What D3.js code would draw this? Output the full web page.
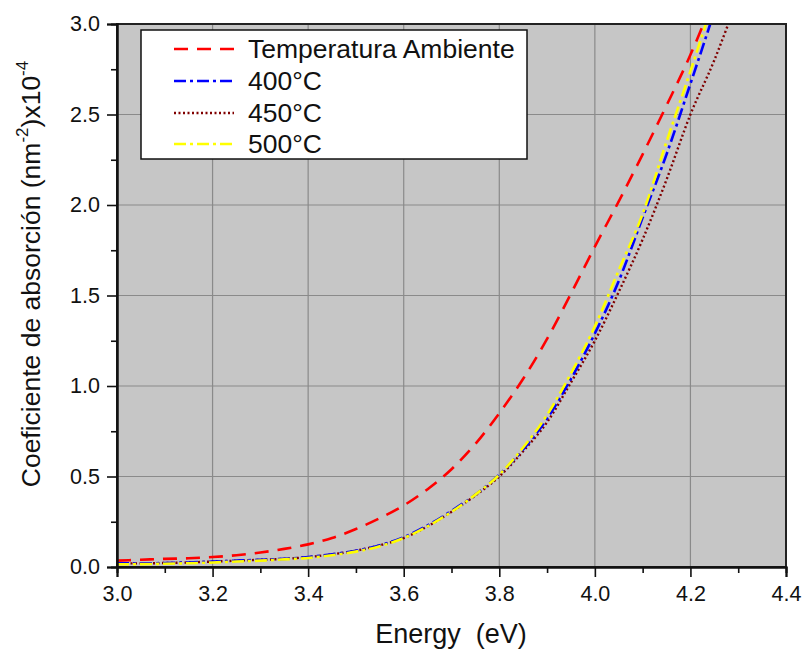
<!DOCTYPE html>
<html><head><meta charset="utf-8">
<script src="https://cdn.jsdelivr.net/npm/d3@7"></script>
<style>body{margin:0;background:#fff}svg{display:block}text{font-family:"Liberation Sans",Arial,sans-serif;fill:#111}</style>
</head><body><svg id="c" width="803" height="652"></svg>
<script>
const energy = [3.00,3.05,3.10,3.15,3.20,3.25,3.30,3.35,3.40,3.45,3.50,3.55,3.60,3.65,3.70,3.75,3.80,3.85,3.90,3.95,4.00,4.05,4.10,4.15,4.20,4.25,4.30];
const tempAmb = [0.035,0.040,0.045,0.048,0.055,0.065,0.080,0.100,0.125,0.160,0.210,0.270,0.340,0.430,0.540,0.680,0.850,1.040,1.260,1.510,1.770,2.020,2.280,2.550,2.830,3.150,3.500];
const t400 = [0.020,0.020,0.022,0.025,0.030,0.035,0.040,0.045,0.055,0.070,0.090,0.120,0.165,0.230,0.310,0.400,0.510,0.650,0.820,1.040,1.290,1.580,1.930,2.280,2.670,3.070,3.500];
const t450 = [0.020,0.020,0.022,0.025,0.030,0.035,0.040,0.045,0.055,0.070,0.090,0.120,0.160,0.225,0.305,0.395,0.500,0.640,0.800,1.020,1.250,1.520,1.810,2.140,2.500,2.800,3.150];
const t500 = [0.015,0.016,0.018,0.021,0.025,0.030,0.035,0.042,0.050,0.065,0.085,0.115,0.160,0.225,0.305,0.400,0.510,0.660,0.840,1.070,1.330,1.640,1.950,2.350,2.740,3.150,3.600];
const seriesNames = ["Temperatura Ambiente","400°C","450°C","500°C"];
const xTicks = [3.0,3.2,3.4,3.6,3.8,4.0,4.2,4.4];
const yTicks = [0.0,0.5,1.0,1.5,2.0,2.5,3.0];

const series = [
  {name:seriesNames[0], vals:tempAmb, color:"#ff0000", dash:"14,9", w:2.6},
  {name:seriesNames[1], vals:t400, color:"#0000ff", dash:"12,4,3,4", w:2.6},
  {name:seriesNames[2], vals:t450, color:"#800000", dash:"2,2.5", w:2.4},
  {name:seriesNames[3], vals:t500, color:"#ffff00", dash:"12,4,3,4", w:2.6}
];

const svg = d3.select("#c");
const L=117, R=786, T=24, B=567;
const x = d3.scaleLinear().domain([3.0,4.4]).range([L,R]);
const y = d3.scaleLinear().domain([0,3.0]).range([B,T]);

svg.append("rect").attr("x",L).attr("y",T).attr("width",R-L).attr("height",B-T).attr("fill","#c6c6c6");
svg.append("defs").append("clipPath").attr("id","clip").append("rect").attr("x",L).attr("y",T).attr("width",R-L).attr("height",B-T);

// grid
const g = svg.append("g");
g.selectAll(".gx").data(xTicks.slice(1,-1)).join("line").attr("x1",d=>x(d)).attr("x2",d=>x(d)).attr("y1",T).attr("y2",B).attr("stroke","#8a8a8a").attr("stroke-width",1.2);
g.selectAll(".gy").data(yTicks.slice(1,-1)).join("line").attr("y1",d=>y(d)).attr("y2",d=>y(d)).attr("x1",L).attr("x2",R).attr("stroke","#8a8a8a").attr("stroke-width",1.2);

// lines
const line = d3.line().x((d,i)=>x(energy[i])).y(d=>y(d)).curve(d3.curveMonotoneX);
const lg = svg.append("g").attr("clip-path","url(#clip)");
[2,1,3,0].forEach(k=>{
  const s=series[k];
  lg.append("path").attr("d",line(s.vals)).attr("fill","none").attr("stroke",s.color).attr("stroke-width",s.w).attr("stroke-dasharray",s.dash);
});

// frame
svg.append("rect").attr("x",L).attr("y",T).attr("width",R-L).attr("height",B-T).attr("fill","none").attr("stroke","#222").attr("stroke-width",2);

// axes
const xAxis = d3.axisBottom(x).tickValues(xTicks).tickFormat(d3.format(".1f")).tickSize(10).tickPadding(9);
svg.append("g").attr("transform",`translate(0,${B})`).call(xAxis);
const xMinor = d3.axisBottom(x).tickValues(d3.range(3.1,4.4,0.2)).tickFormat("").tickSize(6);
svg.append("g").attr("transform",`translate(0,${B})`).call(xMinor);
const yAxis = d3.axisLeft(y).tickValues(yTicks).tickFormat(d3.format(".1f")).tickSize(10).tickPadding(7);
svg.append("g").attr("transform",`translate(${L},0)`).call(yAxis);
const yMinor = d3.axisLeft(y).tickValues(d3.range(0.25,3.0,0.5)).tickFormat("").tickSize(6);
svg.append("g").attr("transform",`translate(${L},0)`).call(yMinor);
svg.selectAll(".domain").attr("stroke","#111").attr("stroke-width",2);
svg.selectAll(".tick line").attr("stroke","#111").attr("stroke-width",1.6);
svg.selectAll(".tick text").attr("font-size",21.5).attr("font-family","Liberation Sans, Arial, sans-serif").attr("fill","#111");

// axis titles
svg.append("text").attr("x",451).attr("y",643).attr("text-anchor","middle").attr("font-size",27).text("Energy\u00a0\u00a0(eV)");
const yt = svg.append("text").attr("transform","translate(40,274) rotate(-90)").attr("text-anchor","middle").attr("font-size",26.5);
yt.append("tspan").text("Coeficiente de absorción (nm");
yt.append("tspan").attr("dy",-12).attr("font-size",17).text("-2");
yt.append("tspan").attr("dy",12).text(")x10");
yt.append("tspan").attr("dy",-12).attr("font-size",17).text("-4");

// legend
const leg = svg.append("g");
leg.append("rect").attr("x",141).attr("y",30).attr("width",386).attr("height",129).attr("fill","#fff").attr("stroke","#111").attr("stroke-width",1.5);
const rowY = [49,81,113,144];
series.forEach((s,i)=>{
  leg.append("line").attr("x1",174).attr("x2",234).attr("y1",rowY[i]).attr("y2",rowY[i]).attr("stroke",s.color).attr("stroke-width",s.w).attr("stroke-dasharray",s.dash);
  leg.append("text").attr("x",248).attr("y",rowY[i]+9).attr("font-size",26.5).text(s.name);
});
</script></body></html>
